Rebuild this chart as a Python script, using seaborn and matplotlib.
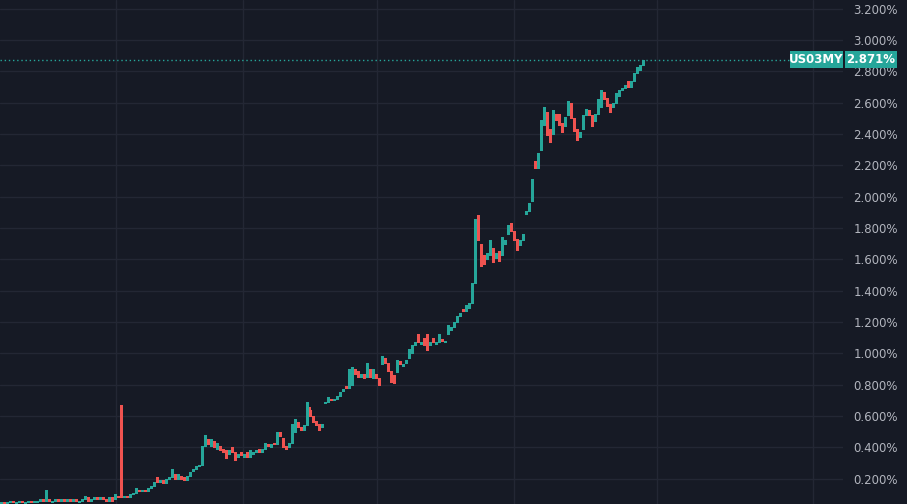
import numpy as np
import pandas as pd
import matplotlib
matplotlib.use("Agg")
import matplotlib.pyplot as plt
from matplotlib.patches import Rectangle
import seaborn as sns

# -----------------------------
# Candle data, one candle per step
# -----------------------------
symbol = "US03MY"
last_price = 2.871

opens = [
    0.04, 0.05, 0.04, 0.05, 0.06, 0.04, 0.05, 0.06, 0.04, 0.05,
    0.06, 0.05, 0.05, 0.06, 0.07, 0.06, 0.07, 0.05, 0.06, 0.07,
    0.06, 0.07, 0.06, 0.07, 0.06, 0.07, 0.05, 0.06, 0.07, 0.08,
    0.06, 0.07, 0.08, 0.07, 0.08, 0.07, 0.06, 0.08, 0.07, 0.09,
    0.10,
    0.08, 0.09, 0.08, 0.10, 0.11, 0.13, 0.12, 0.13, 0.12, 0.14,
    0.15, 0.19, 0.18, 0.19, 0.17, 0.20, 0.21, 0.23, 0.20, 0.22,
    0.21, 0.19, 0.22, 0.25, 0.26, 0.28, 0.29, 0.41, 0.45, 0.41,
    0.44, 0.39, 0.41, 0.39, 0.38, 0.36, 0.39, 0.37, 0.34, 0.37,
    0.34, 0.37, 0.34, 0.36, 0.37, 0.39, 0.37, 0.39, 0.42, 0.40,
    0.43, 0.42, 0.49, 0.46, 0.41, 0.40, 0.43, 0.50, 0.56, 0.53,
    0.51, 0.54, 0.66, 0.60, 0.57, 0.55, 0.53, 0.68, 0.69, 0.71,
    0.70, 0.71, 0.73, 0.76, 0.79, 0.78, 0.80, 0.90, 0.88, 0.85,
    0.87, 0.85, 0.90, 0.84, 0.87, 0.84, 0.93, 0.97, 0.94, 0.89,
    0.86, 0.88, 0.95, 0.92, 0.94, 0.97, 1.00, 1.05, 1.09, 1.06,
    1.08, 1.06, 1.05, 1.08, 1.06, 1.07, 1.09, 1.07, 1.12, 1.15,
    1.17, 1.20, 1.24, 1.28, 1.27, 1.29, 1.32, 1.45, 1.82, 1.70,
    1.63, 1.60, 1.63, 1.67, 1.61, 1.65, 1.63, 1.70, 1.76, 1.82,
    1.78, 1.73, 1.69, 1.72, 1.89, 1.91, 1.97, 2.22, 2.18, 2.30,
    2.46, 2.54, 2.43, 2.40, 2.53, 2.50, 2.47, 2.45, 2.52, 2.59,
    2.50, 2.43, 2.38, 2.43, 2.52, 2.55, 2.52, 2.48, 2.53, 2.57,
    2.66, 2.63, 2.59, 2.57, 2.60, 2.64, 2.68, 2.69, 2.72, 2.70,
    2.74, 2.79, 2.81, 2.84,
]

closes = [
    0.05, 0.04, 0.05, 0.06, 0.05, 0.05, 0.06, 0.05, 0.05, 0.06,
    0.05, 0.06, 0.06, 0.07, 0.06, 0.07, 0.06, 0.06, 0.07, 0.06,
    0.07, 0.06, 0.07, 0.06, 0.07, 0.06, 0.06, 0.07, 0.08, 0.06,
    0.07, 0.08, 0.07, 0.08, 0.07, 0.06, 0.08, 0.06, 0.09, 0.08,
    0.09,
    0.09, 0.08, 0.10, 0.11, 0.12, 0.12, 0.13, 0.12, 0.14, 0.15,
    0.18, 0.18, 0.19, 0.17, 0.20, 0.21, 0.22, 0.20, 0.21, 0.20,
    0.19, 0.22, 0.24, 0.26, 0.28, 0.29, 0.41, 0.44, 0.42, 0.43,
    0.40, 0.41, 0.38, 0.37, 0.36, 0.38, 0.37, 0.34, 0.36, 0.35,
    0.36, 0.34, 0.36, 0.37, 0.38, 0.37, 0.39, 0.41, 0.41, 0.42,
    0.42, 0.48, 0.47, 0.40, 0.40, 0.43, 0.51, 0.56, 0.53, 0.51,
    0.54, 0.65, 0.60, 0.56, 0.54, 0.53, 0.55, 0.69, 0.70, 0.70,
    0.71, 0.73, 0.75, 0.77, 0.78, 0.80, 0.89, 0.87, 0.85, 0.87,
    0.84, 0.90, 0.85, 0.86, 0.84, 0.81, 0.96, 0.94, 0.89, 0.85,
    0.83, 0.94, 0.93, 0.93, 0.96, 1.00, 1.05, 1.07, 1.07, 1.07,
    1.05, 1.04, 1.07, 1.07, 1.07, 1.08, 1.08, 1.08, 1.15, 1.17,
    1.20, 1.24, 1.26, 1.27, 1.29, 1.32, 1.45, 1.84, 1.72, 1.62,
    1.60, 1.64, 1.66, 1.61, 1.64, 1.62, 1.70, 1.72, 1.80, 1.78,
    1.72, 1.69, 1.72, 1.74, 1.91, 1.96, 2.09, 2.18, 2.28, 2.46,
    2.53, 2.42, 2.38, 2.52, 2.49, 2.46, 2.45, 2.51, 2.58, 2.50,
    2.42, 2.39, 2.41, 2.52, 2.54, 2.52, 2.48, 2.53, 2.56, 2.66,
    2.62, 2.58, 2.57, 2.60, 2.64, 2.68, 2.69, 2.71, 2.70, 2.74,
    2.79, 2.81, 2.84, 2.871,
]

# candles with visible wicks beyond their bodies
wick_highs = {
    15: 0.13, 28: 0.09, 38: 0.10, 40: 0.67, 45: 0.14, 52: 0.21, 57: 0.26,
    59: 0.23, 68: 0.48, 70: 0.45, 72: 0.43, 77: 0.40, 83: 0.38, 88: 0.43,
    92: 0.50, 93: 0.50, 97: 0.55, 98: 0.58, 102: 0.69, 103: 0.64, 109: 0.72,
    116: 0.90, 117: 0.91, 119: 0.89, 122: 0.94, 124: 0.90, 127: 0.98,
    128: 0.97, 132: 0.96, 136: 1.03, 139: 1.12, 141: 1.10, 142: 1.12,
    144: 1.10, 146: 1.12, 149: 1.18, 155: 1.31, 158: 1.86, 159: 1.88,
    163: 1.72, 167: 1.74, 169: 1.82, 170: 1.83, 174: 1.76, 177: 2.11,
    178: 2.23, 180: 2.49, 181: 2.57, 184: 2.55, 186: 2.53, 189: 2.61,
    190: 2.60, 195: 2.56, 199: 2.62, 200: 2.68, 201: 2.67, 205: 2.66,
    209: 2.74, 212: 2.83,
}
wick_lows = {
    40: 0.08, 66: 0.28, 75: 0.33, 78: 0.32, 95: 0.39, 106: 0.51, 126: 0.80,
    130: 0.82, 131: 0.81, 142: 1.02, 160: 1.56, 161: 1.57, 164: 1.58,
    166: 1.59, 172: 1.66, 182: 2.39, 183: 2.35, 187: 2.41, 192: 2.36,
    193: 2.38, 197: 2.45, 203: 2.54,
}

y_ticks = [0.2, 0.4, 0.6, 0.8, 1.0, 1.2, 1.4, 1.6, 1.8, 2.0, 2.2, 2.4, 2.6, 2.8, 3.0, 3.2]
x_grid = [38.3, 80.7, 125.3, 171.0, 218.7, 270.7]

# -----------------------------
# Build frame
# -----------------------------
df = pd.DataFrame({"open": opens, "close": closes})
df["high"] = df[["open", "close"]].max(axis=1)
df["low"] = df[["open", "close"]].min(axis=1)
for k, v in wick_highs.items():
    df.loc[k, "high"] = v
for k, v in wick_lows.items():
    df.loc[k, "low"] = v
df["x"] = np.arange(len(df))

bg = "#161a25"
grid_c = "#232734"
up_c = "#26a69a"
down_c = "#ef5350"
text_c = "#b2b5be"

sns.set_theme(style="dark", rc={
    "axes.facecolor": bg,
    "figure.facecolor": bg,
    "grid.color": grid_c,
})
plt.rcParams["font.family"] = ["DejaVu Sans"]

fig = plt.figure(figsize=(9.07, 5.04), dpi=100)
ax = fig.add_axes([0, 0, 843 / 907, 1])
ax.set_facecolor(bg)

colors = np.where(df["close"] >= df["open"], up_c, down_c)
body = (df["close"] - df["open"]).abs().clip(lower=0.008)
bottom = df[["open", "close"]].min(axis=1)

ax.vlines(df["x"], df["low"], df["high"], colors=colors, lw=1,
          antialiased=False, zorder=3)
ax.bar(df["x"], body, bottom=bottom, width=0.5, color=colors,
       linewidth=0, zorder=4)

# last price line
ax.axhline(last_price, color=up_c, ls=(0, (1, 2)), lw=1, zorder=2)

ax.set_xlim(-1 / 3, 842 / 3)
ax.set_ylim(0.0383, 3.2546)

ax.set_xticks(x_grid)
ax.set_xticklabels([])
ax.set_yticks(y_ticks)
ax.set_yticklabels([f"{v:.3f}%" for v in y_ticks])
ax.yaxis.tick_right()
ax.tick_params(axis="y", length=0, pad=7.5, labelsize=8.5, labelcolor=text_c)
ax.tick_params(axis="x", length=0)
ax.grid(True, color=grid_c, lw=1)
for s in ax.spines.values():
    s.set_visible(False)

# price scale badges
W, H = 907, 504
def badge(x0, x1, y0, y1, label, weight):
    fig.add_artist(Rectangle((x0 / W, 1 - y1 / H), (x1 - x0) / W, (y1 - y0) / H,
                             transform=fig.transFigure, color=up_c, lw=0, zorder=10))
    fig.text((x0 + x1) / 2 / W, 1 - (y0 + y1) / 2 / H, label, color="white",
             fontsize=8.5, fontweight=weight, ha="center", va="center", zorder=11)

badge(790, 843, 51, 68, symbol, "bold")
badge(845, 897, 51, 68, f"{last_price:.3f}%", "bold")

plt.savefig("out.png", dpi=100, facecolor=bg)
